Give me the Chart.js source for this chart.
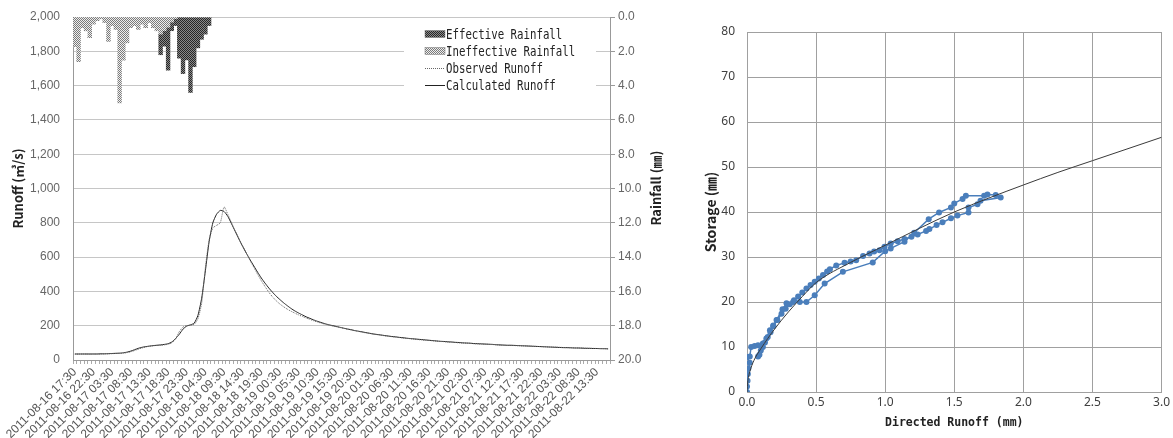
<!DOCTYPE html>
<html>
<head>
<meta charset="utf-8">
<script src="https://cdn.jsdelivr.net/npm/chart.js"></script>
<style>
  html, body { margin: 0; padding: 0; background: #fff; }
  .box { position: absolute; top: 0; height: 438px; }
</style>
</head>
<body>
<div class="box" style="left:0;width:680px"><canvas id="hydroChart"></canvas></div>
<div class="box" style="left:680px;width:493px"><canvas id="storageChart"></canvas></div>
<script>
// hourly time labels, 2011-08-16 17:30 .. 2011-08-22 16:30
const timeLabels = [];
(function () {
    const t = new Date(Date.UTC(2011, 7, 16, 17, 30));
    for (let i = 0; i < 144; i++) {
        const d = new Date(t.getTime() + i * 3600000);
        const p = n => String(n).padStart(2, '0');
        timeLabels.push(`${d.getUTCFullYear()}-${p(d.getUTCMonth() + 1)}-${p(d.getUTCDate())} ${p(d.getUTCHours())}:${p(d.getUTCMinutes())}`);
    }
})();

// rainfall (mm), first 37 hours
const ineffectiveRain = [1.7, 2.6, 0.6, 0.8, 1.2, 0.4, 0.2, 0.1, 0.3, 1.4, 0.5, 0.7, 5.0, 2.5, 1.5, 0.6, 0.5, 0.7, 0.4, 0.6,
    0.3, 0.6, 0.8, 1.0, 0.8, 0.6, 0.3, 0.1, 0, 0, 0, 0, 0, 0, 0, 0, 0];
const effectiveRain = [0, 0, 0, 0, 0, 0, 0, 0, 0, 0, 0, 0, 0, 0, 0, 0, 0, 0, 0, 0,
    0, 0, 0, 1.2, 0.9, 2.5, 0.5, 0.4, 2.4, 3.3, 2.5, 4.4, 2.9, 1.8, 1.3, 1.0, 0.5];

// runoff (m3/s)
const observedRunoff = [
    34, 34, 35, 35, 34, 35, 35, 35, 36, 36,
    37, 38, 38, 40, 43, 48, 55, 63, 70, 76,
    80, 83, 85, 86, 88, 92, 100, 122, 165, 192,
    200, 202, 208, 240, 330, 540, 700, 770, 785, 800,
    893, 850, 800, 752, 708, 665, 622, 580, 540, 500,
    462, 428, 396, 368, 345, 326, 310, 296, 284, 273,
    263, 254, 245, 237, 229, 222, 215, 209, 204, 199,
    195, 190, 185, 180, 176, 171, 167, 163, 158, 155,
    151, 148, 145, 141, 138, 136, 133, 131, 128, 126,
    124, 121, 119, 117, 115, 114, 112, 110, 108, 107,
    105, 104, 102, 100, 99, 98, 97, 95, 94, 93,
    92, 91, 90, 89, 87, 86, 85, 85, 84, 83,
    82, 82, 81, 80, 79, 78, 77, 76, 75, 75,
    74, 73, 72, 72, 71, 70, 70, 69, 68, 68,
    67, 67, 66, 65];
const calculatedRunoff = [
    35, 35, 35, 35, 35, 35, 35, 36, 36, 37,
    38, 39, 40, 42, 46, 52, 60, 68, 74, 78,
    81, 84, 86, 88, 91, 95, 105, 125, 150, 180,
    198, 205, 215, 260, 360, 520, 690, 800, 850, 872,
    866, 838, 795, 750, 705, 662, 622, 584, 548, 512,
    478, 448, 420, 395, 372, 352, 333, 316, 300, 286,
    274, 263, 252, 243, 234, 226, 219, 212, 206, 201,
    196, 191, 186, 181, 177, 172, 168, 164, 160, 156,
    152, 149, 146, 143, 140, 137, 135, 132, 130, 127,
    125, 123, 121, 119, 117, 115, 113, 111, 109, 108,
    106, 105, 103, 102, 100, 99, 98, 96, 95, 94,
    93, 92, 91, 89, 88, 87, 86, 86, 85, 84,
    83, 82, 81, 80, 79, 78, 77, 76, 75, 74,
    73, 72, 72, 71, 70, 70, 69, 68, 68, 67,
    67, 66, 66, 65];

// storage - directed runoff
const obsQ = [0, 0, 0.004, 0.006, 0.01, 0.02, 0, 0.02, 0.03, 0.055, 0.08, 0.115, 0.14, 0.166, 0.19, 0.214, 0.257, 0.286,
    0.334, 0.382, 0.43, 0.49, 0.562, 0.694, 0.91, 1.0, 1.04, 1.14, 1.21, 1.315, 1.39, 1.476, 1.5, 1.56, 1.584,
    1.716, 1.74, 1.8, 1.836, 1.69, 1.668, 1.603, 1.603, 1.523, 1.476, 1.415, 1.372, 1.32, 1.296, 1.235, 1.19,
    1.14, 1.09, 1.04, 0.995, 0.959, 0.92, 0.887, 0.84, 0.79, 0.75, 0.706, 0.646, 0.6, 0.58, 0.55, 0.52, 0.49,
    0.46, 0.43, 0.4, 0.37, 0.34, 0.31, 0.28, 0.25, 0.22, 0.19, 0.17, 0.15, 0.13, 0.115, 0.1, 0.09, 0.08];
const obsS = [0, 1.2, 2.5, 4, 5.2, 6.5, 7.8, 7.9, 10, 10.2, 10.4, 10.8, 11.9, 13.7, 14.8, 16, 18.4, 19.7,
    20, 20, 20, 21.5, 24.1, 26.7, 28.8, 31.3, 31.9, 33.4, 35.4, 38.4, 39.9, 41, 41.9, 42.9, 43.6,
    43.6, 43.9, 43.8, 43.2, 42.5, 41.7, 41, 39.9, 39.2, 38.6, 37.7, 37.1, 36.2, 35.8, 35.0, 34.5,
    34, 33.5, 33, 32.3, 31.5, 31.2, 30.8, 30.2, 29.3, 29.0, 28.7, 28.1, 27.3, 26.8, 26, 25.2, 24.5,
    23.8, 23, 22.1, 21.2, 20.4, 19.5, 18.5, 17.4, 16, 14.6, 13.3, 12.2, 11, 10, 9.2, 8.3, 7.9];
const curveQ = [0, 0.005, 0.01, 0.02, 0.05, 0.1, 0.2, 0.3, 0.4, 0.5, 0.75, 1.0, 1.25, 1.5, 1.75, 2.0, 2.25, 2.5, 2.75, 3.0];
const curveS = [0, 2.2, 3.2, 4.5, 7.0, 9.6, 14.0, 17.8, 21.2, 24.3, 28.8, 32.6, 36.4, 40.0, 43.1, 46.0, 48.8, 51.4, 54.0, 56.6];

// stipple pattern for the rain bars
function makePattern(a, b) {
    const c = document.createElement('canvas');
    c.width = 2; c.height = 2;
    const g = c.getContext('2d');
    g.fillStyle = a; g.fillRect(0, 0, 2, 2);
    g.fillStyle = b; g.fillRect(0, 0, 1, 1); g.fillRect(1, 1, 1, 1);
    return g.createPattern(c, 'repeat');
}
const effPattern = makePattern('#8a8a8a', '#262626');
const ineffPattern = makePattern('#eeeeee', '#7a7a7a');

const tickFont = { family: '"Liberation Sans", sans-serif', size: 12 };
const titleFont = { family: '"Noto Sans CJK KR", sans-serif', size: 13, weight: 'bold' };

// legend drawn inside the plot, top right, plus the upward right-axis title
const hydroLegend = {
    id: 'hydroLegend',
    afterDraw(chart) {
        const ctx = chart.ctx;
        const items = [
            { text: 'Effective Rainfall', kind: 'bar', fill: effPattern },
            { text: 'Ineffective Rainfall', kind: 'bar', fill: ineffPattern },
            { text: 'Observed Runoff', kind: 'line', dash: [1, 1], color: '#666' },
            { text: 'Calculated Runoff', kind: 'line', dash: [], color: '#222' }
        ];
        ctx.save();
        ctx.fillStyle = '#fff';
        ctx.fillRect(404, 19, 192, 86);
        items.forEach((it, i) => {
            const y = 34 + i * 17;
            if (it.kind === 'bar') {
                ctx.fillStyle = it.fill;
                ctx.fillRect(425, y - 3.5, 20, 7);
                ctx.strokeStyle = '#777';
                ctx.lineWidth = 0.5;
                ctx.strokeRect(425, y - 3.5, 20, 7);
            } else {
                ctx.strokeStyle = it.color;
                ctx.lineWidth = 1;
                ctx.setLineDash(it.dash);
                ctx.beginPath();
                ctx.moveTo(425, y + 0.5);
                ctx.lineTo(445, y + 0.5);
                ctx.stroke();
                ctx.setLineDash([]);
            }
            ctx.save();
            ctx.translate(446, y);
            ctx.scale(0.74, 1);
            ctx.fillStyle = '#222';
            ctx.font = '14.5px "DejaVu Sans Mono", monospace';
            ctx.textBaseline = 'middle';
            ctx.fillText(it.text, 0, 1);
            ctx.restore();
        });
        // right axis title, reading upward
        ctx.save();
        ctx.translate(656, 188);
        ctx.rotate(-Math.PI / 2);
        ctx.fillStyle = '#222';
        ctx.font = 'bold 13px "Noto Sans CJK KR", sans-serif';
        ctx.textAlign = 'center';
        ctx.textBaseline = 'middle';
        ctx.fillText('Rainfall (㎜)', 0, 0);
        ctx.restore();
        ctx.restore();
    }
};

new Chart(document.getElementById('hydroChart'), {
    type: 'bar',
    data: {
        labels: timeLabels,
        datasets: [
            {
                label: 'Ineffective Rainfall',
                data: ineffectiveRain,
                yAxisID: 'y2',
                stack: 'rain',
                backgroundColor: ineffPattern,
                borderWidth: 0,
                barPercentage: 1,
                categoryPercentage: 1,
                order: 3
            },
            {
                label: 'Effective Rainfall',
                data: effectiveRain,
                yAxisID: 'y2',
                stack: 'rain',
                backgroundColor: effPattern,
                borderWidth: 0,
                barPercentage: 1,
                categoryPercentage: 1,
                order: 3
            },
            {
                type: 'line',
                label: 'Observed Runoff',
                data: observedRunoff,
                yAxisID: 'y',
                borderColor: '#666',
                borderWidth: 1,
                borderDash: [1, 1],
                pointRadius: 0,
                tension: 0.2,
                order: 1
            },
            {
                type: 'line',
                label: 'Calculated Runoff',
                data: calculatedRunoff,
                yAxisID: 'y',
                borderColor: '#222',
                borderWidth: 1,
                pointRadius: 0,
                tension: 0.2,
                order: 2
            }
        ]
    },
    options: {
        responsive: true,
        maintainAspectRatio: false,
        animation: false,
        layout: { padding: { top: 17, left: 0, right: 0, bottom: 0 } },
        plugins: { legend: { display: false }, tooltip: { enabled: false } },
        scales: {
            x: {
                stacked: true,
                grid: { drawOnChartArea: false, tickLength: 4, color: '#aaa' },
                border: { color: '#999' },
                ticks: {
                    autoSkip: false,
                    minRotation: 45,
                    maxRotation: 45,
                    padding: 1,
                    color: '#555',
                    font: tickFont,
                    callback: (v, i) => i % 5 === 0 ? timeLabels[i] : ''
                },
                afterFit: s => { s.height = 78; }
            },
            y: {
                position: 'left',
                min: 0,
                max: 2000,
                ticks: {
                    stepSize: 200,
                    padding: 13,
                    color: '#666',
                    font: tickFont,
                    callback: v => v.toLocaleString('en-US')
                },
                grid: { color: '#c6c6c6', drawTicks: false },
                border: { color: '#999' },
                title: { display: true, text: 'Runoff (㎥/s)', color: '#222', font: titleFont, padding: { top: 10 } },
                afterFit: s => { s.width = 73; s.paddingTop = 0; s.paddingBottom = 0; }
            },
            y2: {
                position: 'right',
                reverse: true,
                stacked: true,
                min: 0,
                max: 20,
                ticks: {
                    stepSize: 2,
                    padding: 3,
                    color: '#666',
                    font: tickFont,
                    callback: v => v.toFixed(1)
                },
                grid: { drawOnChartArea: false, tickLength: 5, color: '#999' },
                border: { color: '#999' },
                afterFit: s => { s.width = 70; s.paddingTop = 0; s.paddingBottom = 0; }
            }
        }
    },
    plugins: [hydroLegend]
});

new Chart(document.getElementById('storageChart'), {
    type: 'line',
    data: {
        datasets: [
            {
                label: 'Fitted',
                data: curveQ.map((q, i) => ({ x: q, y: curveS[i] })),
                borderColor: '#3a3a3a',
                borderWidth: 1,
                pointRadius: 0,
                cubicInterpolationMode: 'monotone'
            },
            {
                label: 'Observed',
                data: obsQ.map((q, i) => ({ x: q, y: obsS[i] })),
                borderColor: '#4a7ebb',
                backgroundColor: '#4a7ebb',
                borderWidth: 1.5,
                pointRadius: 3,
                pointBorderWidth: 0,
                tension: 0
            }
        ]
    },
    options: {
        responsive: true,
        maintainAspectRatio: false,
        animation: false,
        layout: { padding: { top: 32, right: 8, left: 0, bottom: 0 } },
        plugins: { legend: { display: false }, tooltip: { enabled: false } },
        scales: {
            x: {
                type: 'linear',
                min: 0,
                max: 3,
                ticks: {
                    stepSize: 0.5,
                    color: '#404040',
                    font: { family: '"Noto Sans", sans-serif', size: 12 },
                    callback: v => v.toFixed(1)
                },
                grid: { color: '#a0a0a0', drawTicks: false },
                border: { color: '#a0a0a0' },
                title: {
                    display: true,
                    text: 'Directed Runoff (mm)',
                    color: '#222',
                    font: { family: '"DejaVu Sans Mono", monospace', size: 11.5, weight: 'bold' },
                    padding: { bottom: 8 }
                },
                afterFit: s => { s.height = 46; }
            },
            y: {
                min: 0,
                max: 80,
                ticks: {
                    stepSize: 10,
                    padding: 12,
                    color: '#404040',
                    font: { family: '"Noto Sans", sans-serif', size: 12 }
                },
                grid: { color: '#a0a0a0', drawTicks: false },
                border: { color: '#a0a0a0' },
                title: {
                    display: true,
                    text: 'Storage (㎜)',
                    color: '#222',
                    font: { family: '"Noto Sans CJK KR", sans-serif', size: 14, weight: 'bold' },
                    padding: { top: 22 }
                },
                afterFit: s => { s.width = 67; }
            }
        }
    }
});
</script>
</body>
</html>
